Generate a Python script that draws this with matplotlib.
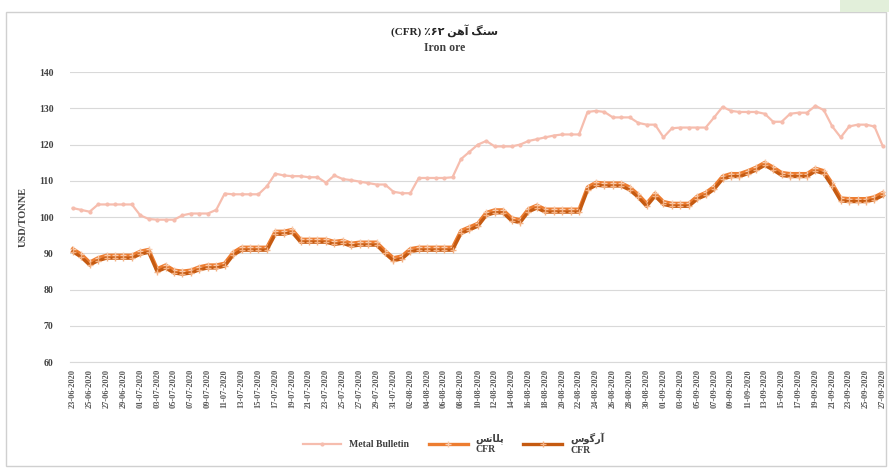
import numpy as np
import pandas as pd
import matplotlib
matplotlib.use("Agg")
import matplotlib.pyplot as plt
from matplotlib.patches import Rectangle

# daily dates, one label every second day
dates = pd.date_range("2020-06-23", periods=97, freq="D")
date_labels = [d.strftime("%d-%m-%Y") for d in dates]

metal_bulletin = [102.5, 102, 101.5, 103.5, 103.5, 103.5, 103.5, 103.5, 100.5, 99.5,
                  99.3, 99.3, 99.3, 100.5, 101, 101, 101, 102, 106.5, 106.3,
                  106.3, 106.3, 106.3, 108.5, 112, 111.5, 111.3, 111.3, 111, 111,
                  109.5, 111.5, 110.5, 110.2, 109.8, 109.4, 109, 109, 107, 106.6,
                  106.6, 110.8, 110.8, 110.8, 110.8, 111, 116, 118, 120, 121,
                  119.5, 119.5, 119.5, 120, 121, 121.5, 122, 122.5, 122.8, 122.8,
                  122.8, 129, 129.3, 129, 127.5, 127.5, 127.5, 126, 125.5, 125.5,
                  122, 124.5, 124.7, 124.7, 124.7, 124.7, 127.5, 130.4, 129.3, 129,
                  129, 129, 128.5, 126.3, 126.3, 128.5, 128.8, 128.8, 130.7, 129.5,
                  125, 122, 125, 125.5, 125.5, 125, 119.5]

cfr_a = [91.3, 89.8, 87.6, 88.8, 89.5, 89.5, 89.5, 89.5, 90.6, 91.1,
         85.8, 86.8, 85.4, 85.1, 85.4, 86.3, 86.8, 86.8, 87.3, 90.3,
         91.7, 91.7, 91.7, 91.7, 96.1, 96.1, 96.6, 93.9, 93.9, 93.9,
         93.9, 93.3, 93.6, 92.8, 93.1, 93.1, 93.1, 90.8, 88.8, 89.3,
         91.3, 91.7, 91.7, 91.7, 91.7, 91.7, 96.3, 97.3, 98.3, 101.3,
         102, 102, 99.8, 99.3, 102.3, 103.3, 102.2, 102.2, 102.2, 102.2,
         102.2, 108.3, 109.6, 109.4, 109.4, 109.4, 108.3, 106.3, 103.8, 106.6,
         104.3, 103.8, 103.8, 103.8, 105.8, 106.8, 108.5, 111.3, 112, 112,
         112.8, 113.8, 115.1, 113.8, 112.3, 112, 112, 112, 113.5, 112.8,
         109.3, 105.3, 105.1, 105.1, 105.1, 105.6, 106.8]

cfr_b = [90.5, 89, 86.8, 88, 88.7, 88.7, 88.7, 88.7, 89.8, 90.3,
         85, 86, 84.6, 84.3, 84.6, 85.5, 86, 86, 86.5, 89.5,
         90.9, 90.9, 90.9, 90.9, 95.3, 95.3, 95.8, 93.1, 93.1, 93.1,
         93.1, 92.5, 92.8, 92, 92.3, 92.3, 92.3, 90, 88, 88.5,
         90.5, 90.9, 90.9, 90.9, 90.9, 90.9, 95.5, 96.5, 97.5, 100.5,
         101.2, 101.2, 99, 98.5, 101.5, 102.5, 101.4, 101.4, 101.4, 101.4,
         101.4, 107.5, 108.8, 108.6, 108.6, 108.6, 107.5, 105.5, 103, 105.8,
         103.5, 103, 103, 103, 105, 106, 107.7, 110.5, 111.2, 111.2,
         112, 113, 114.3, 113, 111.5, 111.2, 111.2, 111.2, 112.7, 112,
         108.5, 104.5, 104.3, 104.3, 104.3, 104.8, 106]

y_ticks = [60, 70, 80, 90, 100, 110, 120, 130, 140]

# Persian strings written in visual order with presentation forms
title_fa = "(CFR) \u066A\u06F6\u06F2 \uFEE6\uFEEB\uFE81 \uFB93\uFEE8\uFEB3"
label_mb = "Metal Bulletin"
label_a = "\uFEB2\uFE97\uFE8E\uFEE0\uFB58\nCFR"
label_b = "\uFEB1\uFEEE\uFB94\uFEAD\uFE81\nCFR"

fonts = ["Liberation Serif", "DejaVu Sans"]

fig = plt.figure(figsize=(8.89, 4.68), dpi=100)
ax = fig.add_axes([0.079, 0.226, 0.917, 0.62])

x = np.arange(len(dates))
ax.plot(x, metal_bulletin, color="#F6BDAE", lw=1.6, marker="o", ms=2,
        label=label_mb, zorder=3)
ax.plot(x, cfr_a, color="#ED7D31", lw=2.4, marker="+", ms=4, mew=1,
        mec="#F8CBAD", label=label_a, zorder=4)
ax.plot(x, cfr_b, color="#C55A11", lw=2.4, marker="+", ms=4, mew=1,
        mec="#F4B183", label=label_b, zorder=5)

ax.set_ylim(60, 140)
ax.set_yticks(y_ticks)
ax.set_xlim(-0.3, 96.3)
ax.set_xticks(x[::2])
ax.set_xticklabels(date_labels[::2], rotation=90, fontsize=6,
                   family=fonts, fontweight="bold", color="#595959")
for lab in ax.get_yticklabels():
    lab.set_family(fonts)
    lab.set_fontweight("bold")
    lab.set_fontsize(7)
    lab.set_color("#404040")
ax.tick_params(axis="x", length=0, pad=5)
ax.tick_params(axis="y", length=0, pad=12)
ax.grid(axis="y", color="#D9D9D9", lw=0.8)
ax.set_axisbelow(True)
for s in ["top", "right", "left"]:
    ax.spines[s].set_visible(False)
ax.spines["bottom"].set_color("#D9D9D9")

ax.set_ylabel("USD/TONNE", family=fonts, fontweight="bold", fontsize=7.5,
              color="#404040", labelpad=8)

fig.text(0.5, 0.935, title_fa, ha="center", va="center", family=fonts,
         fontweight="bold", fontsize=8, color="#262626")
fig.text(0.5, 0.897, "Iron ore", ha="center", va="center", family=fonts,
         fontweight="bold", fontsize=8.5, color="#404040")

leg = fig.legend(loc="lower center", bbox_to_anchor=(0.51, 0.01), ncol=3,
                 frameon=False, handlelength=4, columnspacing=2,
                 labelspacing=0.2, prop={"family": fonts, "weight": "bold", "size": 7})
for t in leg.get_texts():
    t.set_color("#404040")

# sheet frame and a selected cell in the corner
fig.patches.append(Rectangle((0.007, 0.005), 0.99, 0.97, transform=fig.transFigure,
                             fill=False, ec="#D0D0D0", lw=1))
fig.patches.append(Rectangle((0.945, 0.975), 0.055, 0.025, transform=fig.transFigure,
                             fc="#E2EFDA", ec="none"))

fig.savefig("out.png", dpi=100)
